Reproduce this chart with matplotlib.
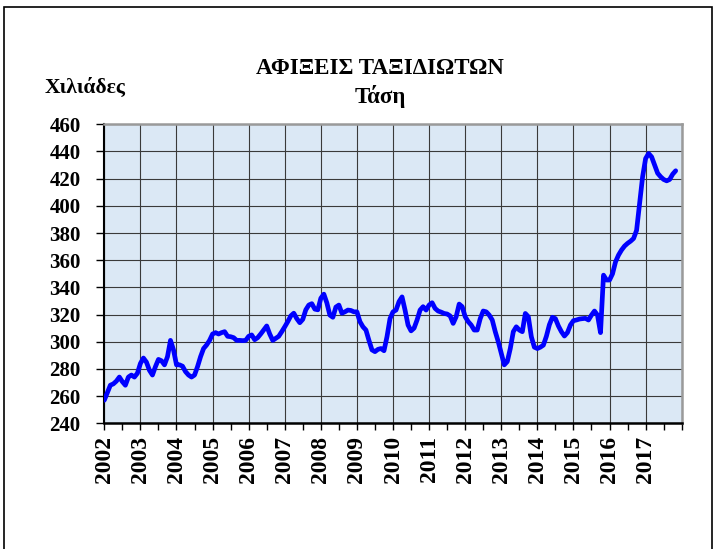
import matplotlib.pyplot as plt
from matplotlib.patches import Rectangle
from matplotlib.ticker import MultipleLocator
import numpy as np

# monthly trend values (thousands), Jan 2002 - Nov 2017
y2002 = [257, 262.5, 268, 269, 271, 274, 270.6, 268, 274, 275.5, 274, 276.8]
y2003 = [284, 288, 285, 279, 275.5, 281.7, 287, 286, 283, 289, 301, 294]
y2004 = [283, 283, 282, 278, 275.5, 274, 275.5, 281.7, 289, 295, 297.6, 301]
y2005 = [305.7, 306.7, 305.7, 306.7, 307.4, 304, 303.7, 303, 301, 301, 300.8, 301]
y2006 = [304, 305, 301.5, 303, 305.7, 308.6, 311.6, 305.7, 301, 302.5, 304, 307.4]
y2007 = [311, 314.8, 319, 321, 317, 314, 316.5, 323.5, 327, 328, 324, 323.5]
y2008 = [332, 335, 328.6, 319.6, 318, 325.5, 327, 321, 322, 323.3, 323, 322]
y2009 = [322, 314.8, 311, 308.6, 301, 294, 292.7, 294.4, 295, 293.4, 303.7, 317]
y2010 = [322, 323.3, 329.5, 333, 323.3, 312.3, 308, 310, 316, 323.3, 325.8, 323.3]
y2011 = [327, 328.7, 324.5, 322.6, 321.8, 320.8, 320.4, 319, 313.5, 318.4, 327.7, 325.8]
y2012 = [318.4, 314.8, 312.3, 308.6, 308.6, 317, 322.6, 322, 319.6, 316, 307.4, 300]
y2013 = [291.5, 283, 285.4, 295, 307.4, 311, 308.6, 307.4, 320.8, 318.4, 303.7, 296]
y2014 = [295, 296, 297.5, 304, 312.5, 318, 317, 311.6, 307.4, 304.2, 306.7, 312.3]
y2015 = [315.5, 316, 316.7, 317, 317.2, 316, 319.6, 322.6, 319.6, 306.7, 349, 345.4]
y2016 = [345.4, 350, 358.8, 363.8, 367.5, 370.4, 372.4, 374, 376, 382, 401.8, 421.4]
y2017 = [434.8, 438.5, 436, 430, 424, 421.4, 419.4, 418.4, 419.4, 423.3, 425.8]

years = list(range(2002, 2018))
values = (y2002 + y2003 + y2004 + y2005 + y2006 + y2007 + y2008 + y2009 +
          y2010 + y2011 + y2012 + y2013 + y2014 + y2015 + y2016 + y2017)
t = 2002 + np.arange(len(values)) / 12

plt.rcParams['font.family'] = ['Liberation Serif', 'DejaVu Serif']
plt.rcParams['font.weight'] = 'bold'

fig = plt.figure(figsize=(7.2, 5.49), dpi=100)
ax = fig.add_axes([0.1449, 0.2290, 0.8019, 0.5446])

ax.set_facecolor('#dbe8f5')
ax.plot(t, values, color='#0000ff', lw=3.4, solid_joinstyle='round', solid_capstyle='round', zorder=3)

ax.set_xlim(2002, 2018)
ax.set_ylim(240, 460)
ax.yaxis.set_major_locator(MultipleLocator(20))
ax.set_xticks(list(range(2002, 2019)))
ax.set_xticklabels([str(y) for y in years] + [''], rotation=90, fontsize=17, fontweight='bold')
ax.xaxis.set_minor_locator(MultipleLocator(0.5))
for lab in ax.get_yticklabels():
    lab.set_fontsize(15)
    lab.set_fontweight('bold')

ax.grid(True, which='major', color='#3a3a3a', lw=0.8, zorder=1)
ax.tick_params(axis='y', direction='out', length=6, width=1, pad=11)
ax.tick_params(axis='x', which='both', direction='out', length=5, width=1, pad=4)

ax.spines['left'].set_color('black')
ax.spines['left'].set_linewidth(1.5)
ax.spines['bottom'].set_color('black')
ax.spines['bottom'].set_linewidth(1.8)
ax.spines['top'].set_color('#9a9a9a')
ax.spines['top'].set_linewidth(1.8)
ax.spines['right'].set_color('#9a9a9a')
ax.spines['right'].set_linewidth(1.8)

fig.text(0.528, 1 - 68 / 549, 'ΑΦΙΞΕΙΣ ΤΑΞΙΔΙΩΤΩΝ', ha='center', va='center', fontsize=16.5, fontweight='bold')
fig.text(0.528, 1 - 96 / 549, 'Τάση', ha='center', va='center', fontsize=16.5, fontweight='bold')
fig.text(85 / 720, 1 - 88 / 549, 'Χιλιάδες', ha='center', va='center', fontsize=15.5, fontweight='bold')

fig.patches.append(Rectangle((4 / 720, -0.01), 708 / 720, 1 - 7 / 549 + 0.01, transform=fig.transFigure,
                             fill=False, edgecolor='black', lw=1.2))

fig.savefig('out.png', dpi=100)
